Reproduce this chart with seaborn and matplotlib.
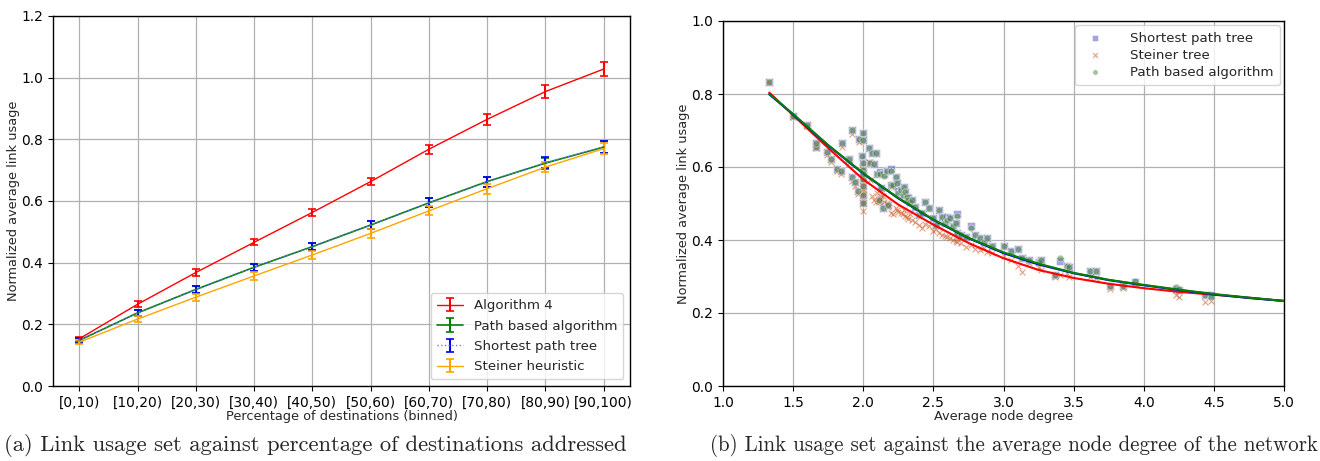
import numpy as np
import pandas as pd
import matplotlib
matplotlib.use("Agg")
import matplotlib.pyplot as plt
import seaborn as sns

# ---------------- data: panel (a) ----------------
bins = ["[0,10)", "[10,20)", "[20,30)", "[30,40)", "[40,50)",
        "[50,60)", "[60,70)", "[70,80)", "[80,90)", "[90,100)"]
alg4 = [0.153, 0.265, 0.368, 0.466, 0.563, 0.663, 0.768, 0.865, 0.955, 1.028]
alg4_err = [0.007, 0.010, 0.010, 0.010, 0.011, 0.012, 0.015, 0.017, 0.020, 0.022]
pba = [0.148, 0.237, 0.313, 0.385, 0.452, 0.522, 0.594, 0.663, 0.723, 0.775]
pba_err = [0.007, 0.010, 0.010, 0.011, 0.012, 0.014, 0.015, 0.016, 0.018, 0.018]
spt = [0.148, 0.237, 0.313, 0.385, 0.452, 0.522, 0.594, 0.663, 0.724, 0.775]
spt_err = [0.007, 0.010, 0.010, 0.011, 0.012, 0.014, 0.015, 0.016, 0.018, 0.018]
steiner = [0.142, 0.217, 0.288, 0.357, 0.425, 0.495, 0.568, 0.640, 0.710, 0.770]
steiner_err = [0.007, 0.010, 0.011, 0.012, 0.013, 0.014, 0.015, 0.016, 0.016, 0.017]

# ---------------- data: panel (b) ----------------
degree = [1.33, 1.50, 1.60, 1.66, 1.66, 1.74, 1.77, 1.81, 1.84, 1.85,
          1.90, 1.92, 1.92, 1.94, 1.96, 1.97, 1.99, 2.00, 2.00, 2.00,
          2.00, 2.00, 2.00, 2.00, 2.00, 2.00, 2.04, 2.05, 2.06, 2.08,
          2.09, 2.10, 2.11, 2.12, 2.13, 2.14, 2.15, 2.17, 2.18, 2.20,
          2.20, 2.21, 2.23, 2.24, 2.25, 2.27, 2.28, 2.29, 2.30, 2.31,
          2.32, 2.33, 2.35, 2.37, 2.40, 2.42, 2.44, 2.47, 2.50, 2.52,
          2.54, 2.56, 2.58, 2.60, 2.62, 2.64, 2.66, 2.67, 2.67, 2.70,
          2.73, 2.77, 2.80, 2.83, 2.86, 2.88, 2.92, 3.00, 3.05, 3.10,
          3.13, 3.18, 3.25, 3.27, 3.37, 3.40, 3.45, 3.47, 3.62, 3.66,
          3.76, 3.85, 3.94, 4.23, 4.25, 4.44, 4.48]
pba_pts = [0.834, 0.740, 0.716, 0.656, 0.666, 0.640, 0.622, 0.594, 0.588, 0.665,
           0.622, 0.700, 0.572, 0.558, 0.533, 0.676, 0.630, 0.693, 0.673, 0.611,
           0.593, 0.566, 0.548, 0.524, 0.501, 0.580, 0.652, 0.612, 0.638, 0.608,
           0.637, 0.581, 0.510, 0.581, 0.542, 0.487, 0.575, 0.588, 0.496, 0.590,
           0.552, 0.551, 0.573, 0.556, 0.530, 0.537, 0.523, 0.545, 0.532, 0.519,
           0.510, 0.505, 0.510, 0.491, 0.468, 0.473, 0.505, 0.487, 0.460, 0.440,
           0.481, 0.464, 0.446, 0.456, 0.459, 0.437, 0.447, 0.465, 0.420, 0.414,
           0.409, 0.432, 0.414, 0.406, 0.395, 0.406, 0.383, 0.383, 0.370, 0.376,
           0.351, 0.346, 0.340, 0.346, 0.305, 0.351, 0.330, 0.327, 0.314, 0.314,
           0.273, 0.273, 0.287, 0.270, 0.265, 0.248, 0.245]
spt_pts = [0.834, 0.740, 0.716, 0.656, 0.666, 0.640, 0.622, 0.594, 0.588, 0.665,
           0.622, 0.700, 0.572, 0.558, 0.533, 0.676, 0.630, 0.693, 0.673, 0.611,
           0.593, 0.566, 0.548, 0.524, 0.501, 0.580, 0.652, 0.612, 0.638, 0.608,
           0.637, 0.581, 0.510, 0.585, 0.542, 0.487, 0.580, 0.588, 0.496, 0.595,
           0.552, 0.551, 0.573, 0.556, 0.535, 0.537, 0.523, 0.545, 0.532, 0.519,
           0.515, 0.505, 0.510, 0.491, 0.468, 0.473, 0.505, 0.487, 0.460, 0.440,
           0.481, 0.464, 0.446, 0.462, 0.459, 0.437, 0.447, 0.470, 0.420, 0.414,
           0.409, 0.438, 0.414, 0.406, 0.395, 0.406, 0.383, 0.383, 0.370, 0.376,
           0.351, 0.346, 0.340, 0.346, 0.305, 0.343, 0.330, 0.325, 0.314, 0.314,
           0.273, 0.273, 0.285, 0.265, 0.262, 0.248, 0.248]
steiner_pts = [0.834, 0.738, 0.713, 0.652, 0.662, 0.632, 0.615, 0.588, 0.580, 0.655,
               0.612, 0.690, 0.562, 0.548, 0.525, 0.668, 0.600, 0.560, 0.540, 0.525,
               0.510, 0.555, 0.535, 0.500, 0.479, 0.570, 0.613, 0.565, 0.520, 0.510,
               0.505, 0.530, 0.505, 0.514, 0.520, 0.520, 0.505, 0.500, 0.490, 0.473,
               0.545, 0.470, 0.488, 0.482, 0.478, 0.473, 0.470, 0.482, 0.466, 0.464,
               0.458, 0.470, 0.455, 0.450, 0.441, 0.432, 0.445, 0.438, 0.425, 0.430,
               0.418, 0.415, 0.410, 0.408, 0.405, 0.400, 0.398, 0.405, 0.395, 0.392,
               0.382, 0.385, 0.375, 0.372, 0.378, 0.368, 0.365, 0.355, 0.345, 0.330,
               0.312, 0.338, 0.325, 0.318, 0.300, 0.305, 0.310, 0.300, 0.300, 0.295,
               0.265, 0.268, 0.280, 0.250, 0.243, 0.229, 0.233]

# fitted trend curves
curve_x = [1.33, 1.50, 1.75, 2.00, 2.25, 2.50, 2.75, 3.00, 3.25, 3.50,
           3.75, 4.00, 4.25, 4.50, 4.75, 5.00]
curve_steiner = [0.804, 0.742, 0.652, 0.566, 0.497, 0.442, 0.392, 0.350, 0.318, 0.296,
                 0.280, 0.268, 0.258, 0.250, 0.242, 0.233]
curve_spt = [0.799, 0.744, 0.659, 0.582, 0.514, 0.455, 0.405, 0.364, 0.333, 0.309,
             0.290, 0.276, 0.263, 0.251, 0.241, 0.233]
curve_pba = [0.800, 0.745, 0.660, 0.583, 0.515, 0.456, 0.406, 0.366, 0.335, 0.310,
             0.291, 0.277, 0.264, 0.252, 0.242, 0.233]

# ---------------- style ----------------
sns.set_style("ticks")
plt.rcParams.update({
    "font.family": ["DejaVu Sans"],
    "axes.edgecolor": "black",
    "axes.linewidth": 1.0,
    "axes.grid": True,
    "grid.color": "#b0b0b0",
    "grid.linewidth": 0.9,
    "xtick.color": "black",
    "ytick.color": "black",
    "xtick.direction": "out",
    "ytick.direction": "out",
    "xtick.major.size": 3.5,
    "ytick.major.size": 3.5,
})
FS = 9.3
TFS = 9.9

fig = plt.figure(figsize=(13.2, 4.61), dpi=100)
W, H = 1320, 461
axL = fig.add_axes([53 / W, (H - 386) / H, 577 / W, 370 / H])
axR = fig.add_axes([723 / W, (H - 386) / H, 561 / W, 365 / H])

# ---------------- panel (a) ----------------
xpos = np.arange(len(bins))
axL.errorbar(xpos, alg4, yerr=alg4_err, color="red", lw=1.0, elinewidth=1.5,
             capsize=3, capthick=1.2, label="Algorithm 4")
axL.errorbar(xpos, pba, yerr=pba_err, color="green", lw=1.2, elinewidth=1.5,
             capsize=3, capthick=1.2, label="Path based algorithm")
axL.errorbar(xpos, spt, yerr=spt_err, color="#6f6fff", ls=":", lw=1.0, ecolor="blue",
             elinewidth=1.5, capsize=3, capthick=1.2, label="Shortest path tree")
axL.errorbar(xpos, steiner, yerr=steiner_err, color="orange", lw=1.0, elinewidth=1.5,
             capsize=3, capthick=1.2, label="Steiner heuristic")
axL.set_xticks(xpos)
axL.set_xticklabels(bins, fontsize=TFS)
axL.set_xlim(-0.45, 9.45)
axL.set_ylim(0, 1.2)
axL.set_yticks(np.arange(0, 1.21, 0.2))
axL.set_yticklabels([f"{v:.1f}" for v in np.arange(0, 1.21, 0.2)], fontsize=TFS)
axL.set_xlabel("Percentage of destinations (binned)", fontsize=FS, labelpad=0)
axL.set_ylabel("Normalized average link usage", fontsize=FS, labelpad=1)
axL.legend(loc="lower right", fontsize=FS + 0.3, framealpha=0.8,
           handlelength=2.0, borderpad=0.45, labelspacing=0.55)

# ---------------- panel (b) ----------------
df = pd.DataFrame({"degree": degree, "spt": spt_pts, "steiner": steiner_pts, "pba": pba_pts})
sns.scatterplot(data=df, x="degree", y="spt", ax=axR, marker="s", s=26,
                color="#5a5ac0", alpha=0.55, edgecolor="white", linewidth=0.6,
                label="Shortest path tree", zorder=3)
sns.scatterplot(data=df, x="degree", y="steiner", ax=axR, marker="x", s=18,
                color="#d0602a", alpha=0.6, linewidth=0.8,
                label="Steiner tree", zorder=3)
sns.scatterplot(data=df, x="degree", y="pba", ax=axR, marker="o", s=24,
                color="#4f8a40", alpha=0.5, edgecolor="white", linewidth=0.6,
                label="Path based algorithm", zorder=3)
cdf = pd.DataFrame({"x": curve_x, "st": curve_steiner, "spt": curve_spt, "pba": curve_pba})
sns.lineplot(data=cdf, x="x", y="st", ax=axR, color="red", lw=1.5, zorder=4, legend=False)
sns.lineplot(data=cdf, x="x", y="spt", ax=axR, color="blue", lw=1.5, zorder=4, legend=False)
sns.lineplot(data=cdf, x="x", y="pba", ax=axR, color="green", lw=1.5, zorder=4, legend=False)
axR.set_xlim(1.0, 5.0)
axR.set_ylim(0, 1.0)
xt = np.arange(1.0, 5.01, 0.5)
axR.set_xticks(xt)
axR.set_xticklabels([f"{v:.1f}" for v in xt], fontsize=TFS)
yt = np.arange(0, 1.01, 0.2)
axR.set_yticks(yt)
axR.set_yticklabels([f"{v:.1f}" for v in yt], fontsize=TFS)
axR.set_xlabel("Average node degree", fontsize=FS, labelpad=0)
axR.set_ylabel("Normalized average link usage", fontsize=FS, labelpad=1)
axR.legend(loc="upper right", fontsize=FS + 0.3, framealpha=0.8, borderpad=0.5,
           labelspacing=0.3, handletextpad=1.6, markerscale=0.8, borderaxespad=0.3)
for ax in (axL, axR):
    ax.set_axisbelow(True)
    for sp in ax.spines.values():
        sp.set_visible(True)
        sp.set_color("black")

# ---------------- captions ----------------
fig.text(315 / W, (H - 445) / H,
         "(a) Link usage set against percentage of destinations addressed",
         ha="center", va="center", fontsize=16.3, fontfamily="cmr10")
fig.text(1014 / W, (H - 445) / H,
         "(b) Link usage set against the average node degree of the network",
         ha="center", va="center", fontsize=15.1, fontfamily="cmr10")

fig.savefig("out.png", dpi=100)
